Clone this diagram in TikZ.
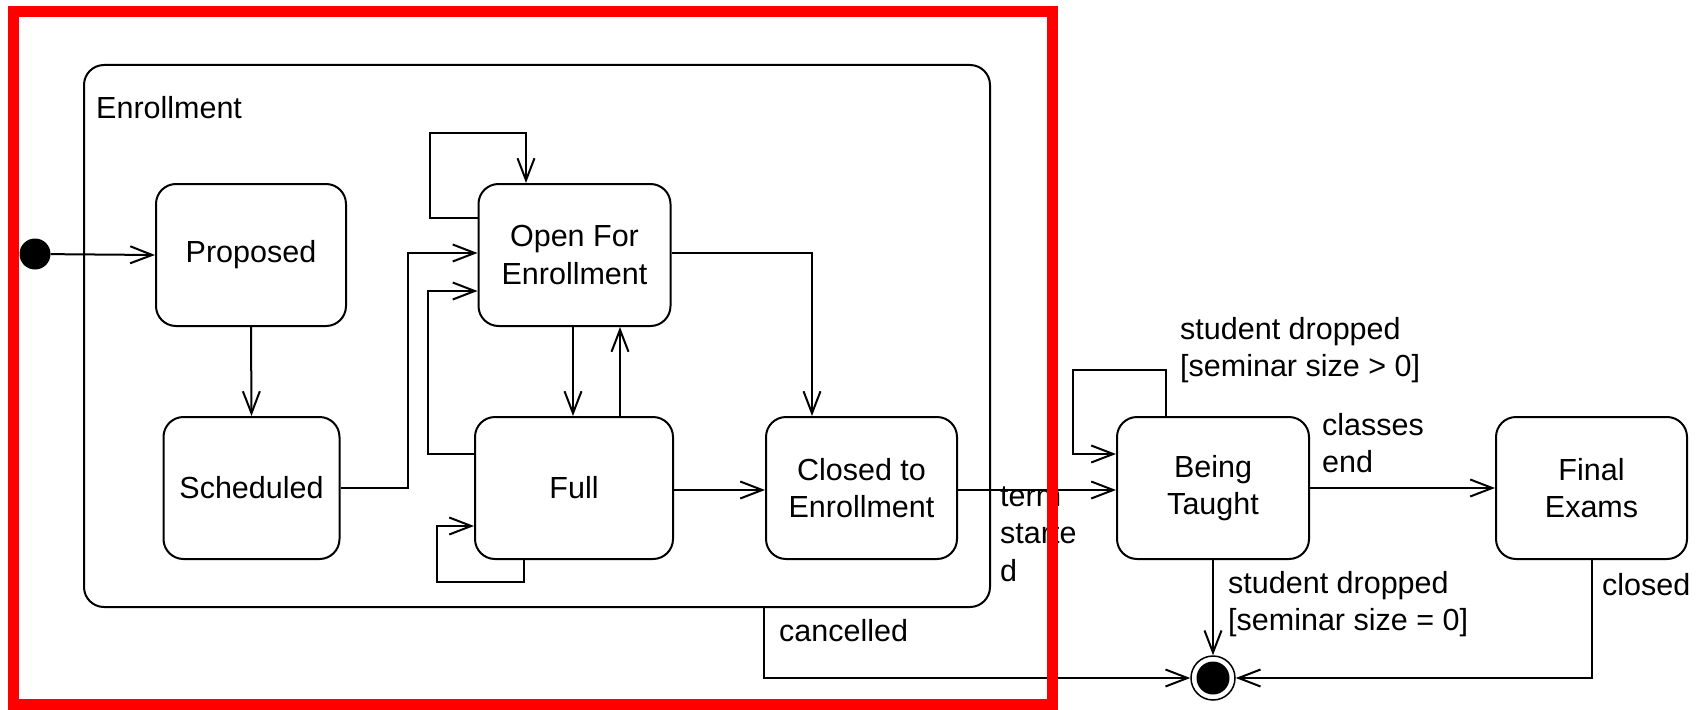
\documentclass[tikz,border=0pt]{standalone}
\usepackage{fontspec}
\setmainfont{Liberation Sans}
\usetikzlibrary{arrows.meta,calc}
\begin{document}
\begin{tikzpicture}[x=1pt,y=-1pt,
  txt/.style={font=\fontsize{30.5}{37.5}\selectfont},
  state/.style={draw, line width=2pt, rounded corners=20pt, minimum width=192pt, minimum height=142pt, align=center, txt, inner sep=0pt},
  composite/.style={draw, line width=2pt, rounded corners=20pt, minimum width=906pt, minimum height=542pt, inner sep=0pt},
  lbl/.style={txt, align=left, anchor=west, inner sep=0pt},
  arr/.style={line width=2pt, -{Straight Barb[length=22pt,width=17pt]}},
  initdot/.style={circle, fill=black, minimum size=31pt, inner sep=0pt},
  finalst/.style={circle, draw, line width=1.5pt, fill=white, minimum size=44pt, inner sep=0pt,
    path picture={\fill[black] (path picture bounding box.center) circle (16.5pt);}}
]
\useasboundingbox (0,0) rectangle (1696,709);
\fill[white] (0,0) rectangle (1696,709);

% composite
\node[composite] (enroll) at (537,336) {};
\node[lbl] (enrlbl) at (96,108) {Enrollment};

% states
\node[initdot] (init) at (35,254) {};
\node[state, minimum width=190pt] (prop) at (251,255) {Proposed};
\node[state, minimum width=176pt] (sched) at (251.5,488) {Scheduled};
\node[state] (open) at (574.5,255) {Open For\\Enrollment};
\node[state, minimum width=198pt] (full) at (574,488) {Full};
\node[state, minimum width=191pt] (closed) at (861.5,488) {Closed to\\Enrollment};
\node[state] (taught) at (1213,488) {Being\\Taught};
\node[state, minimum width=191pt] (exams) at (1591.5,488) {Final\\Exams};
\node[finalst] (final) at (1213,678) {};

% transitions
\draw[arr] (init) -- (prop.west);
\draw[arr] (prop.south) -- (sched.north);
\draw[arr] (sched.east) -- (408,488) |- (open.west |- 0,253);
\draw[arr] (open.west |- 0,218) -- (430,218) -- (430,133) -| (open.north -| 526,0);
\draw[arr] (full.west |- 0,454) -| (428,291) -- (open.west |- 0,291);
\draw[arr] (open.south -| 573,0) -- (full.north -| 573,0);
\draw[arr] (full.north -| 620,0) -- (open.south -| 620,0);
\draw[arr] (open.east |- 0,253) -| (closed.north -| 812,0);
\draw[arr] (full.south -| 524,0) -- (524,582) -| (437,526) -- (full.west |- 0,526);
\draw[arr] (full.east |- 0,490) -- (closed.west |- 0,490);
\draw[arr] (closed.east |- 0,490) -- (taught.west |- 0,490);
\draw[arr] (taught.north -| 1166,0) -- (1166,370) -| (1073,454) -- (taught.west |- 0,454);
\draw[arr] (taught.east) -- (exams.west);
\draw[arr] (taught.south) -- (final.north);
\draw[arr] (exams.south) |- (final.east);
\draw[arr] (enroll.south -| 764,0) |- (final.west);

% labels
\node[lbl] (lterm) at (1000,534) {term\\starte\\d};
\node[lbl] (ldrop1) at (1180,350) {student dropped\\{[seminar size > 0]}};
\node[lbl] (lclasses) at (1322,443) {classes\\end};
\node[lbl] (ldrop2) at (1228,604) {student dropped\\{[seminar size = 0]}};
\node[lbl] (lclosed) at (1602,585) {closed};
\node[lbl] (lcancel) at (779,631) {cancelled};

% red frame
\draw[red, line width=11pt] (13,12) rectangle (1052,704);
\end{tikzpicture}
\end{document}
